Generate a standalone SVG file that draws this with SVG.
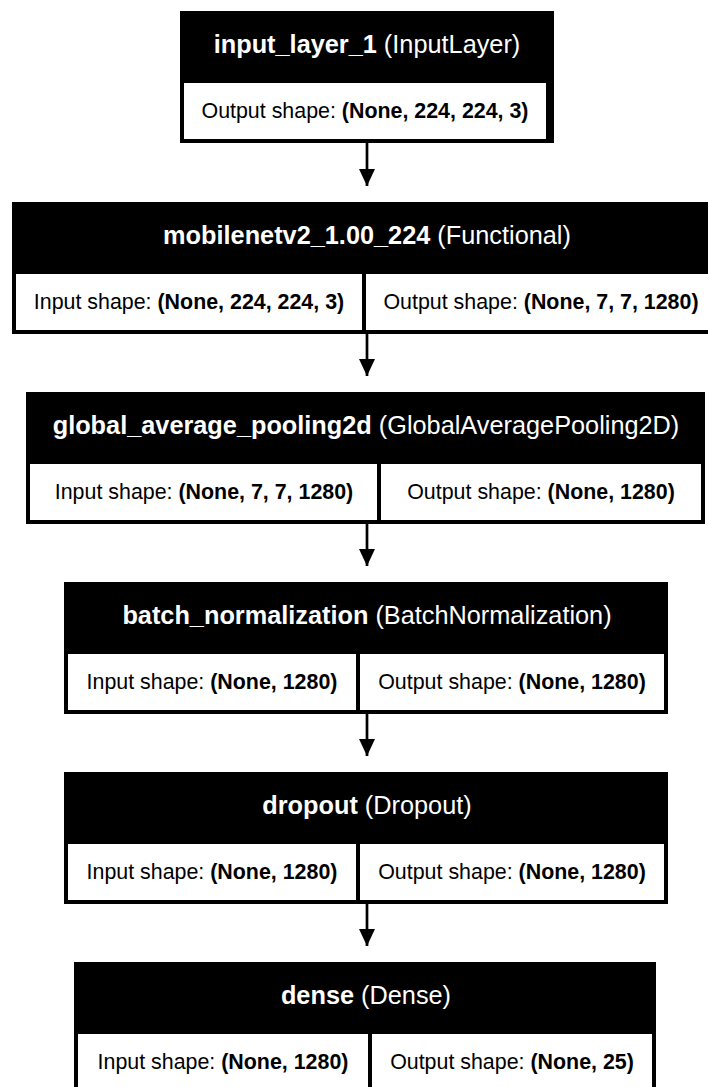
<svg xmlns="http://www.w3.org/2000/svg" width="708" height="1087" viewBox="0 0 708 1087">
  <style>
    .box { fill: #000000; }
    .cell { fill: #ffffff; }
    .title { font-family: "Liberation Sans", Arial, sans-serif; font-size: 25.3px; fill: #ffffff; text-anchor: middle; }
    .shape { font-family: "Liberation Sans", Arial, sans-serif; font-size: 21.4px; fill: #000000; text-anchor: middle; }
    .b { font-weight: bold; }
    .edge { stroke: #000000; stroke-width: 2.7; fill: none; }
  </style>
  <defs>
    <marker id="arrow" markerUnits="userSpaceOnUse" markerWidth="18" markerHeight="16" refX="17" refY="8" orient="auto">
      <path d="M0,0 L17,8 L0,16 Z" fill="#000000"/>
    </marker>
  </defs>
  <rect width="708" height="1087" fill="#ffffff"/>

  <!-- layer nodes -->
  <g id="input_layer_1">
    <rect class="box" x="180" y="11" width="374" height="132"/>
    <text class="title" x="367" y="53"><tspan class="b">input_layer_1</tspan> (InputLayer)</text>
    <rect class="cell" x="184" y="83" width="362" height="56"/>
    <text class="shape" x="365" y="118">Output shape: <tspan class="b">(None, 224, 224, 3)</tspan></text>
  </g>

  <g id="mobilenetv2_1.00_224">
    <rect class="box" x="12" y="202" width="710" height="132"/>
    <text class="title" x="367" y="244"><tspan class="b">mobilenetv2_1.00_224</tspan> (Functional)</text>
    <rect class="cell" x="16" y="274" width="346" height="56"/>
    <rect class="cell" x="366" y="274" width="352" height="56"/>
    <text class="shape" x="189" y="309">Input shape: <tspan class="b">(None, 224, 224, 3)</tspan></text>
    <text class="shape" x="541" y="309">Output shape: <tspan class="b">(None, 7, 7, 1280)</tspan></text>
  </g>

  <g id="global_average_pooling2d">
    <rect class="box" x="26" y="392" width="679" height="132"/>
    <text class="title" x="366" y="434"><tspan class="b">global_average_pooling2d</tspan> (GlobalAveragePooling2D)</text>
    <rect class="cell" x="30" y="464" width="347" height="56"/>
    <rect class="cell" x="381" y="464" width="320" height="56"/>
    <text class="shape" x="204" y="499">Input shape: <tspan class="b">(None, 7, 7, 1280)</tspan></text>
    <text class="shape" x="541" y="499">Output shape: <tspan class="b">(None, 1280)</tspan></text>
  </g>

  <g id="batch_normalization">
    <rect class="box" x="64" y="582" width="604" height="132"/>
    <text class="title" x="367" y="624"><tspan class="b">batch_normalization</tspan> (BatchNormalization)</text>
    <rect class="cell" x="68" y="654" width="288" height="56"/>
    <rect class="cell" x="360" y="654" width="304" height="56"/>
    <text class="shape" x="212" y="689">Input shape: <tspan class="b">(None, 1280)</tspan></text>
    <text class="shape" x="512" y="689">Output shape: <tspan class="b">(None, 1280)</tspan></text>
  </g>

  <g id="dropout">
    <rect class="box" x="64" y="772" width="604" height="132"/>
    <text class="title" x="367" y="814"><tspan class="b">dropout</tspan> (Dropout)</text>
    <rect class="cell" x="68" y="844" width="288" height="56"/>
    <rect class="cell" x="360" y="844" width="304" height="56"/>
    <text class="shape" x="212" y="879">Input shape: <tspan class="b">(None, 1280)</tspan></text>
    <text class="shape" x="512" y="879">Output shape: <tspan class="b">(None, 1280)</tspan></text>
  </g>

  <g id="dense">
    <rect class="box" x="74" y="962" width="582" height="132"/>
    <text class="title" x="366" y="1004"><tspan class="b">dense</tspan> (Dense)</text>
    <rect class="cell" x="78" y="1034" width="290" height="56"/>
    <rect class="cell" x="372" y="1034" width="280" height="56"/>
    <text class="shape" x="223" y="1069">Input shape: <tspan class="b">(None, 1280)</tspan></text>
    <text class="shape" x="512" y="1069">Output shape: <tspan class="b">(None, 25)</tspan></text>
  </g>

  <!-- connectors -->
  <g id="edges">
    <path class="edge" d="M367,143 V186" marker-end="url(#arrow)"/>
    <path class="edge" d="M367,334 V376" marker-end="url(#arrow)"/>
    <path class="edge" d="M367,524 V566" marker-end="url(#arrow)"/>
    <path class="edge" d="M367,714 V756" marker-end="url(#arrow)"/>
    <path class="edge" d="M367,904 V946" marker-end="url(#arrow)"/>
  </g>
</svg>
